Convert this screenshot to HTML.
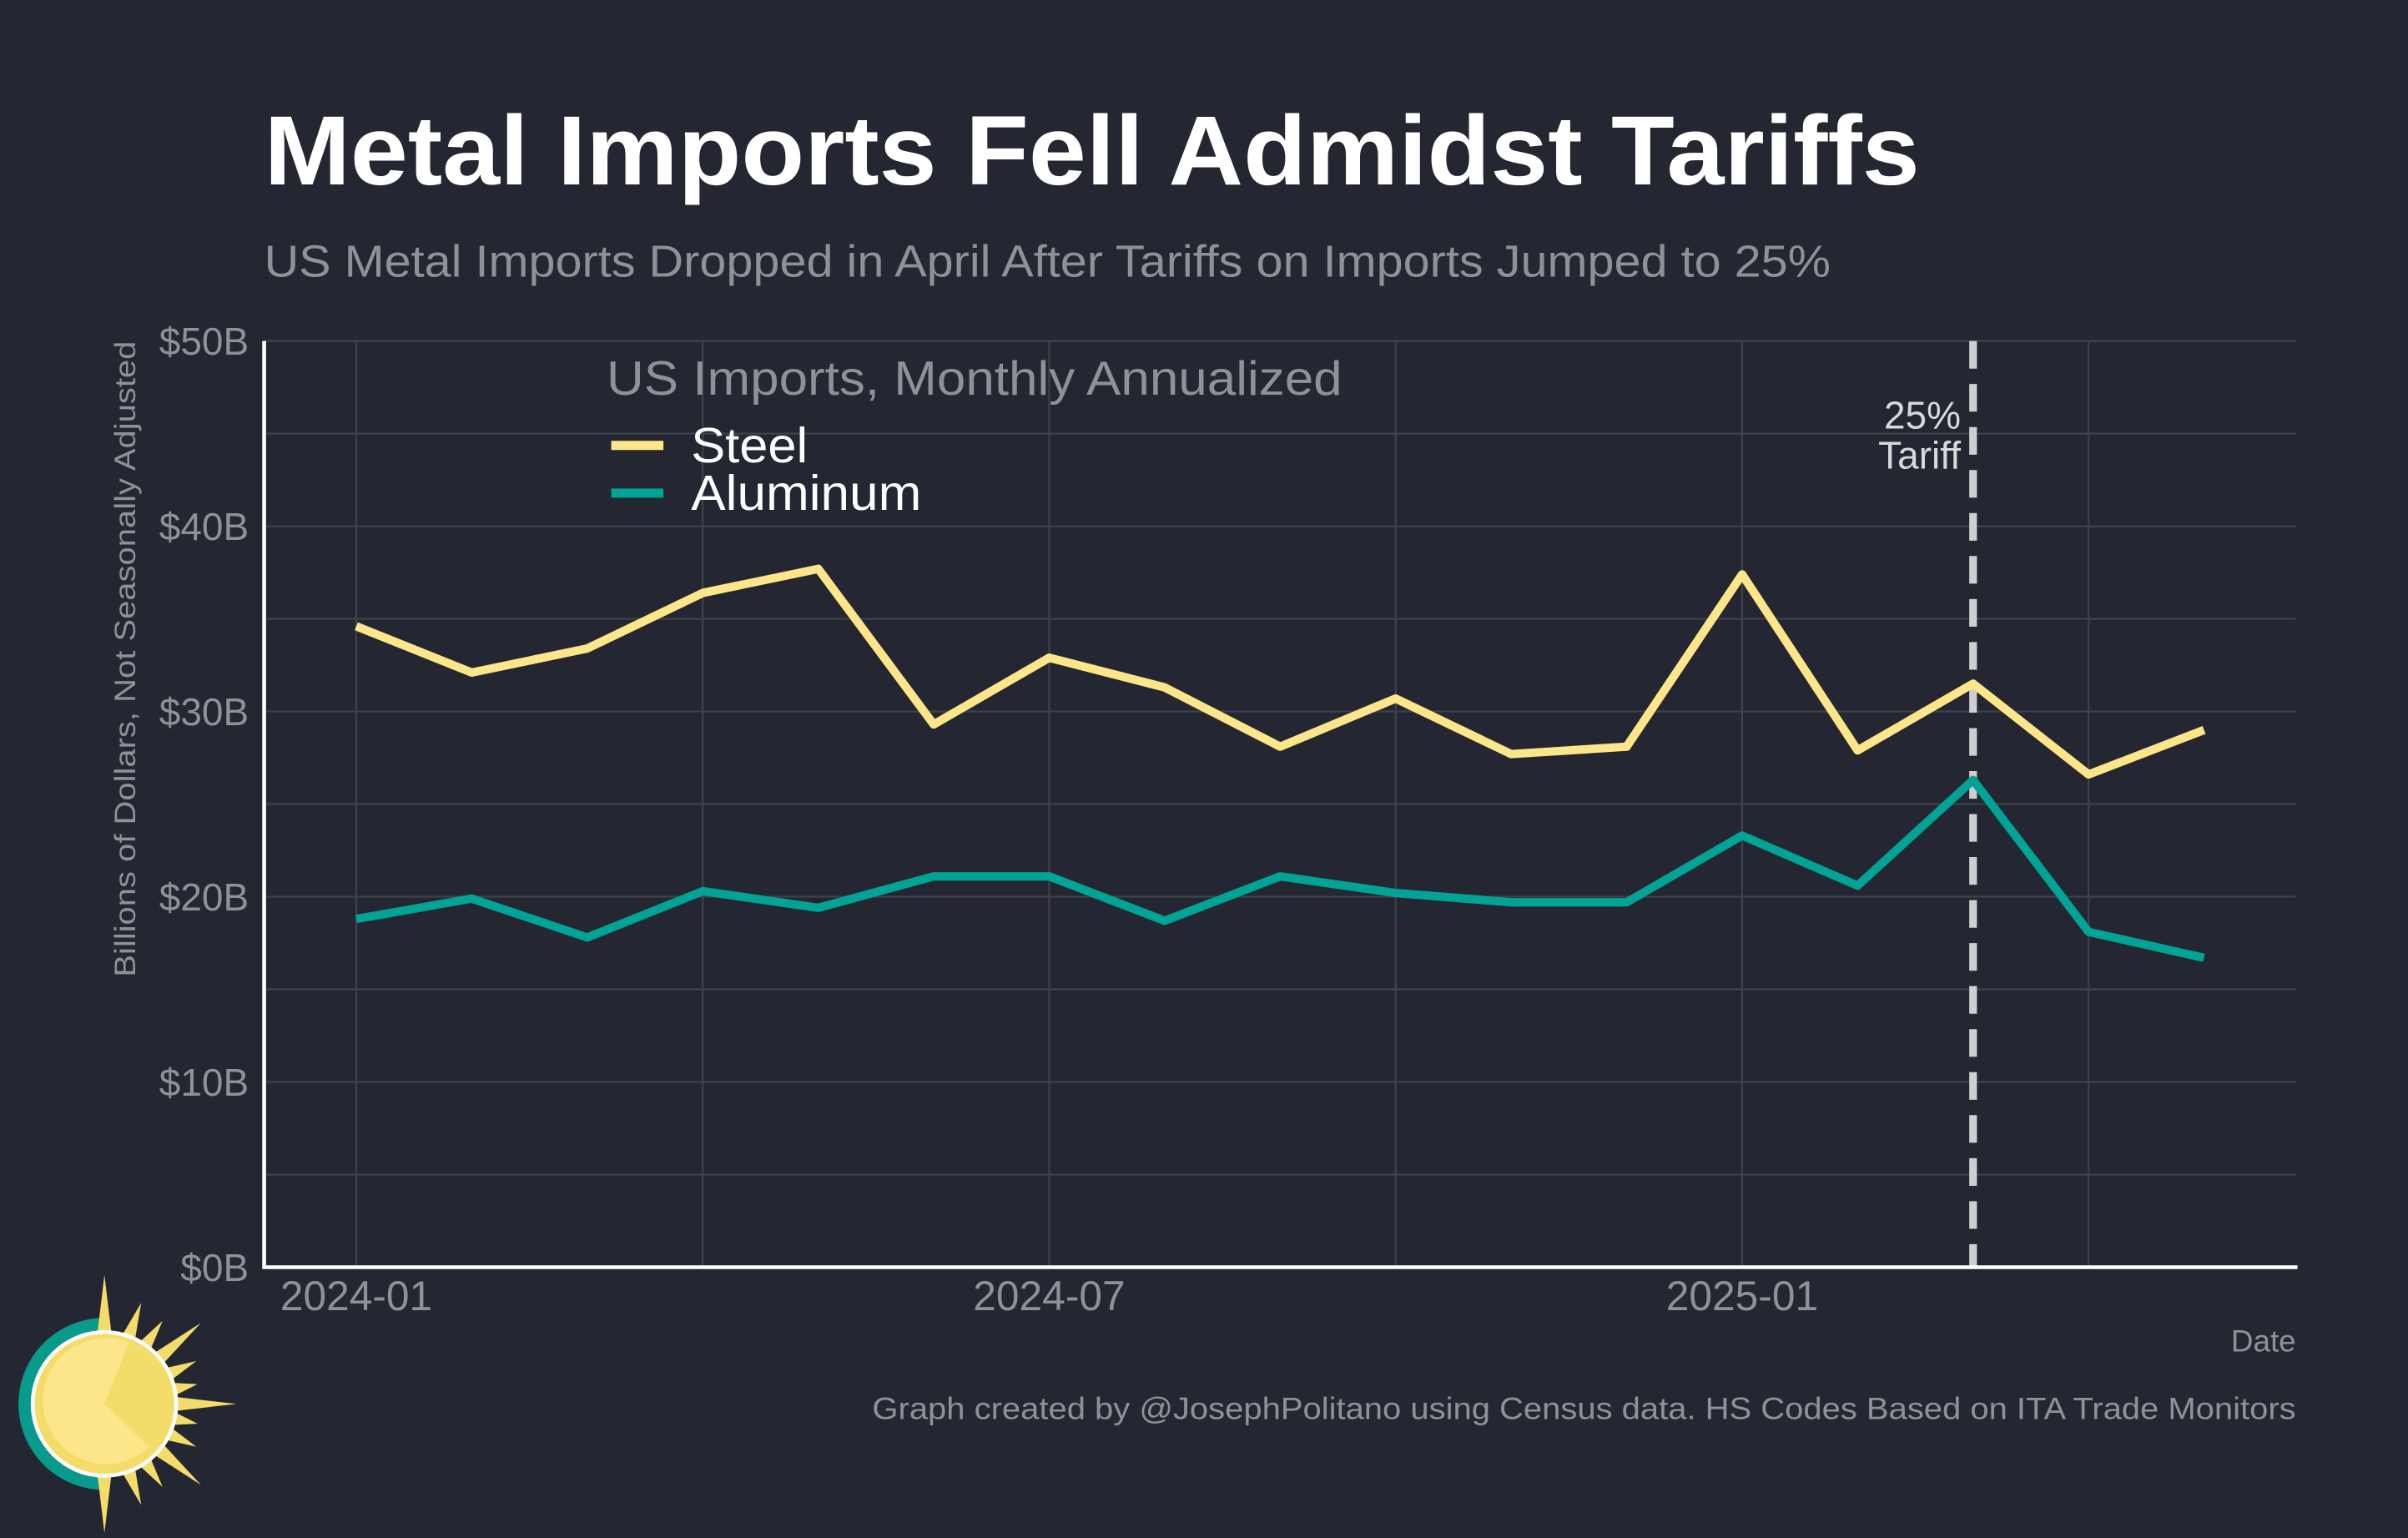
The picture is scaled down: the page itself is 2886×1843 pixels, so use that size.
<!DOCTYPE html>
<html><head><meta charset="utf-8"><style>
html,body{margin:0;padding:0;background:#242731;}
svg{display:block;font-family:"Liberation Sans",Arial,sans-serif;}
</style></head><body>
<svg width="2886" height="1843" viewBox="0 0 1568 1001.3" preserveAspectRatio="none" xmlns="http://www.w3.org/2000/svg">
<rect width="1568" height="1002" fill="#242731"/>
<text x="172" y="120" font-size="64" font-weight="bold" fill="#ffffff" textLength="1078" lengthAdjust="spacingAndGlyphs">Metal Imports Fell Admidst Tariffs</text>
<text x="172" y="180" font-size="29" fill="#8f9198" textLength="1020" lengthAdjust="spacingAndGlyphs">US Metal Imports Dropped in April After Tariffs on Imports Jumped to 25%</text>
<g id="grid"></g>
<g id="yticks"></g>
<g id="xticks"></g>
<text transform="translate(88,429) rotate(-90)" text-anchor="middle" font-size="19" fill="#8f9198" textLength="414" lengthAdjust="spacingAndGlyphs">Billions of Dollars, Not Seasonally Adjusted</text>
<line id="tariff" y1="222" y2="825" stroke="#cfcfd2" stroke-width="5" stroke-dasharray="18,10"/>
<text id="tlabel" y="279" font-size="25" fill="#d8d8d8" text-anchor="end"><tspan id="t1">25%</tspan><tspan id="t2" dy="26">Tariff</tspan></text>
<g id="series"></g>
<line x1="172" y1="222" x2="172" y2="826" stroke="#fff" stroke-width="2.5"/>
<line x1="171" y1="825" x2="1496" y2="825" stroke="#fff" stroke-width="2.5"/>
<text x="395" y="257" font-size="31" fill="#8f9198" textLength="479" lengthAdjust="spacingAndGlyphs">US Imports, Monthly Annualized</text>
<line x1="398" y1="290" x2="432" y2="290" stroke="#fde68a" stroke-width="6"/>
<text x="450" y="301" font-size="32" fill="#ffffff" textLength="76" lengthAdjust="spacingAndGlyphs">Steel</text>
<line x1="398" y1="321" x2="432" y2="321" stroke="#00a396" stroke-width="6"/>
<text x="450" y="332" font-size="32" fill="#ffffff" textLength="150" lengthAdjust="spacingAndGlyphs">Aluminum</text>
<text x="1495" y="880" font-size="20" text-anchor="end" fill="#8f9198">Date</text>
<text x="1495" y="924" font-size="20" text-anchor="end" fill="#8f9198" textLength="927" lengthAdjust="spacingAndGlyphs">Graph created by @JosephPolitano using Census data. HS Codes Based on ITA Trade Monitors</text>
<g>
<path d="M68,858 A56,56 0 0 0 68,970 Z" fill="#079a8d"/>
<g id="rays" fill="#f3dc6a"></g>
<circle cx="68" cy="914" r="48" fill="#fff"/>
<circle cx="68" cy="914" r="45.5" fill="#f3dc6a"/>
<path d="M68,914 L84,874 A41,41 0 1 0 97,942 Z" fill="#fde68a"/>
</g>
</svg>
<script>
const months=["2024-01","2024-02","2024-03","2024-04","2024-05","2024-06","2024-07","2024-08","2024-09","2024-10","2024-11","2024-12","2025-01","2025-02","2025-03","2025-04","2025-05"];
const steel=[34.6,32.1,33.4,36.4,37.7,29.3,32.9,31.3,28.1,30.7,27.7,28.1,37.4,27.9,31.5,26.6,29.0];
const aluminum=[18.8,19.9,17.8,20.3,19.4,21.1,21.1,18.7,21.1,20.2,19.7,19.7,23.3,20.6,26.3,18.1,16.7];
const yTicks=[0,10,20,30,40,50];
const yTickLabels=["$0B","$10B","$20B","$30B","$40B","$50B"];
const xTickIdx=[0,6,12];
const xTickLabels=["2024-01","2024-07","2025-01"];
const tariffIdx=14;
const NS="http://www.w3.org/2000/svg";
const X=i=>232+i*75.2;
const Y=v=>825-v*12.06;
function mk(t,a,p){const e=document.createElementNS(NS,t);for(const k in a)e.setAttribute(k,a[k]);p.appendChild(e);return e;}
const grid=document.getElementById('grid');
for(let v=0;v<=50;v+=5){const l=mk('line',{x1:172,x2:1495,y1:Y(v),y2:Y(v),stroke:'#3f424b','stroke-width':1.2},grid);

}
for(let i=0;i<months.length;i+=3){const l=mk('line',{x1:X(i),x2:X(i),y1:222,y2:825,stroke:'#3f424b','stroke-width':1.2},grid);

}
const yt=document.getElementById('yticks');
yTicks.forEach((v,k)=>{const t=mk('text',{x:162,y:Y(v)+9,'font-size':25,'text-anchor':'end',fill:'#8f9198'},yt);t.textContent=yTickLabels[k];

});
const xt=document.getElementById('xticks');
xTickIdx.forEach((i,k)=>{const t=mk('text',{x:X(i),y:853,'font-size':27,'text-anchor':'middle',fill:'#8f9198'},xt);t.textContent=xTickLabels[k];

});
const tl=document.getElementById('tariff');tl.setAttribute('x1',X(tariffIdx));tl.setAttribute('x2',X(tariffIdx));
document.getElementById('t1').setAttribute('x',X(tariffIdx)-8);document.getElementById('t2').setAttribute('x',X(tariffIdx)-8);
const sg=document.getElementById('series');
[[steel,'#fde68a','steel-line'],[aluminum,'#00a396','aluminum-line']].forEach(([d,c,n])=>{
const p=mk('polyline',{points:d.map((v,i)=>X(i)+','+Y(v)).join(' '),fill:'none',stroke:c,'stroke-width':5.5,'stroke-linejoin':'round'},sg);

});
const rays=document.getElementById('rays');
const angs=[-90,-70,-55,-40,-25,-12,0,12,25,40,55,70,90];
const lens=[84,70,66,82,66,62,86,62,66,82,66,70,84];
angs.forEach((a,k)=>{const r=a*Math.PI/180,w=0.11,L=lens[k],R=44;
const pts=[[68+R*Math.cos(r-w),914+R*Math.sin(r-w)],[68+L*Math.cos(r),914+L*Math.sin(r)],[68+R*Math.cos(r+w),914+R*Math.sin(r+w)]];
const p=mk('polygon',{points:pts.map(q=>q.join(',')).join(' ')},rays);

});
</script>
</body></html>
